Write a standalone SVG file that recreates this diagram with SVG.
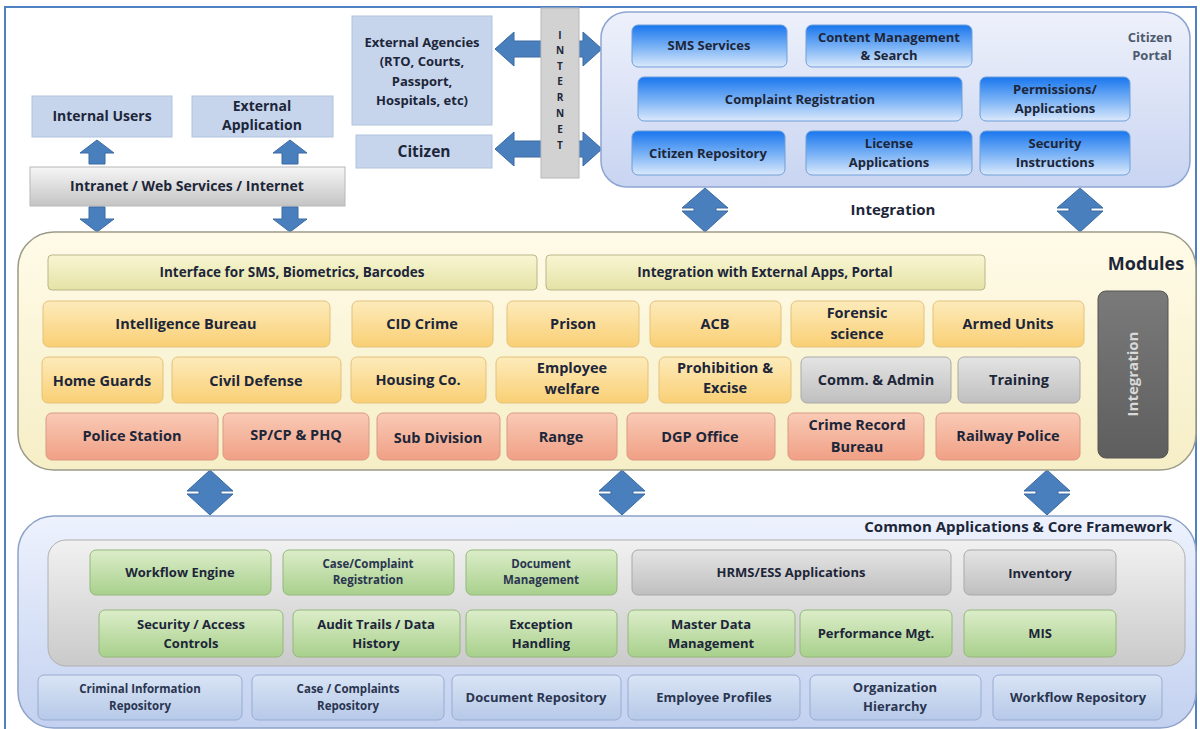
<svg xmlns="http://www.w3.org/2000/svg" width="1200" height="729" viewBox="0 0 1200 729">
<defs>
<linearGradient id="gGray" x1="0" y1="0" x2="0" y2="1"><stop offset="0" stop-color="#f6f6f6"/><stop offset="1" stop-color="#c4c4c4"/></linearGradient>
<linearGradient id="gPortal" x1="0" y1="0" x2="0" y2="1"><stop offset="0" stop-color="#eef1fb"/><stop offset="1" stop-color="#c8d4f1"/></linearGradient>
<linearGradient id="gBlue" x1="0" y1="0" x2="0" y2="1"><stop offset="0" stop-color="#1976ee"/><stop offset="0.55" stop-color="#7fb5f6"/><stop offset="1" stop-color="#dbe9fb"/></linearGradient>
<linearGradient id="gModules" x1="0" y1="0" x2="0" y2="1"><stop offset="0" stop-color="#fffbe8"/><stop offset="1" stop-color="#f6eec6"/></linearGradient>
<linearGradient id="gYG" x1="0" y1="0" x2="0" y2="1"><stop offset="0" stop-color="#f8f6d2"/><stop offset="1" stop-color="#e5e2a6"/></linearGradient>
<linearGradient id="gOrange" x1="0" y1="0" x2="0" y2="1"><stop offset="0" stop-color="#fdebbb"/><stop offset="1" stop-color="#f9cf74"/></linearGradient>
<linearGradient id="gSalmon" x1="0" y1="0" x2="0" y2="1"><stop offset="0" stop-color="#f9cab6"/><stop offset="1" stop-color="#f0a085"/></linearGradient>
<linearGradient id="gGrayBox" x1="0" y1="0" x2="0" y2="1"><stop offset="0" stop-color="#e4e4e4"/><stop offset="1" stop-color="#bfbfbf"/></linearGradient>
<linearGradient id="gDark" x1="0" y1="0" x2="0" y2="1"><stop offset="0" stop-color="#7a7a7a"/><stop offset="1" stop-color="#5e5e5e"/></linearGradient>
<linearGradient id="gCommon" x1="0" y1="0" x2="0" y2="1"><stop offset="0" stop-color="#edf2fd"/><stop offset="1" stop-color="#c3d1f0"/></linearGradient>
<linearGradient id="gPanel" x1="0" y1="0" x2="0" y2="1"><stop offset="0" stop-color="#f1f1f1"/><stop offset="1" stop-color="#cacaca"/></linearGradient>
<linearGradient id="gGreen" x1="0" y1="0" x2="0" y2="1"><stop offset="0" stop-color="#dcedc9"/><stop offset="1" stop-color="#a8d08c"/></linearGradient>
<linearGradient id="gRepo" x1="0" y1="0" x2="0" y2="1"><stop offset="0" stop-color="#d9e4f5"/><stop offset="1" stop-color="#b6c9e8"/></linearGradient>
</defs>
<style>
.t{font-family:"Open Sans",Lato,"Liberation Sans",sans-serif;font-weight:700;fill:#1d2639;text-anchor:middle;font-size:13px}
.l{font-size:14px}
.m{font-size:14.5px}
.xs{font-size:11.5px;fill:#2a3550}
.lb{fill:#c6d5ec;stroke:#b2c3de;stroke-width:1}
.gb{fill:url(#gGray);stroke:#b8b8b8;stroke-width:1}
.bb{fill:url(#gBlue);stroke:#6f9fd8;stroke-width:1}
.yg{fill:url(#gYG);stroke:#b9b68a;stroke-width:1}
.or{fill:url(#gOrange);stroke:#e3c27a;stroke-width:1}
.sa{fill:url(#gSalmon);stroke:#d99a82;stroke-width:1}
.gr{fill:url(#gGrayBox);stroke:#a9a9a9;stroke-width:1}
.gn{fill:url(#gGreen);stroke:#93b87a;stroke-width:1}
.rp{fill:url(#gRepo);stroke:#97acd2;stroke-width:1}
.ar{fill:#4a7fbd;stroke:#3b6aa3;stroke-width:1}
.il{font-size:10px}
</style>
<rect x="0" y="0" width="1200" height="729" fill="#ffffff"/>
<rect x="5" y="7" width="1191" height="740" fill="none" stroke="#4f81c3" stroke-width="2"/>

<g id="internal-users"><rect class="lb" x="32" y="96" width="140" height="41"/><text class="t l" x="102" y="121">Internal Users</text></g>
<g id="external-application"><rect class="lb" x="192" y="96" width="141" height="41"/><text class="t l" x="262" y="111">External</text><text class="t l" x="262" y="130">Application</text></g>
<g id="intranet"><rect class="gb" x="30" y="167" width="315" height="39"/><text class="t l" x="187" y="191">Intranet / Web Services / Internet</text></g>
<g id="external-agencies"><rect class="lb" x="352" y="16" width="140" height="109"/><text class="t" x="422" y="47">External Agencies</text><text class="t" x="422" y="66">(RTO, Courts,</text><text class="t" x="422" y="86">Passport,</text><text class="t" x="422" y="105">Hospitals, etc)</text></g>
<g id="citizen"><rect class="lb" x="356" y="135" width="136" height="33"/><text class="t" x="424" y="157" style="font-size:15.5px">Citizen</text></g>

<g id="connectors">
<polygon class="ar" points="80,153 97,140 114,153 105,153 105,164 89,164 89,153"/>
<polygon class="ar" points="273,153 290,140 307,153 298,153 298,164 282,164 282,153"/>
<polygon class="ar" points="89,207 105,207 105,219 114,219 97,232 80,219 89,219"/>
<polygon class="ar" points="282,207 298,207 298,219 307,219 290,232 273,219 282,219"/>
<polygon class="ar" points="495,49 514,32 514,41 583,41 583,32 602,49 583,66 583,57 514,57 514,66"/>
<polygon class="ar" points="495,149 514,132 514,141 583,141 583,132 602,149 583,166 583,157 514,157 514,166"/>
<polygon class="ar" points="705,188 728,208 716,208 716,211 728,211 705,232 682,211 694,211 694,208 682,208"/>
<polygon class="ar" points="1080,188 1103,208 1091,208 1091,211 1103,211 1080,232 1057,211 1069,211 1069,208 1057,208"/>
<polygon class="ar" points="210,470 233,491 221,491 221,494 233,494 210,515 187,494 199,494 199,491 187,491"/>
<polygon class="ar" points="622,470 645,491 633,491 633,494 645,494 622,515 599,494 611,494 611,491 599,491"/>
<polygon class="ar" points="1047,470 1070,491 1058,491 1058,494 1070,494 1047,515 1024,494 1036,494 1036,491 1024,491"/>
</g>

<g id="internet"><rect class="gb" x="541" y="8" width="38" height="170" style="fill:#d2d2d2"/>
<text class="t il" x="560" y="39">I</text><text class="t il" x="560" y="54">N</text><text class="t il" x="560" y="70">T</text><text class="t il" x="560" y="85">E</text><text class="t il" x="560" y="101">R</text><text class="t il" x="560" y="117">N</text><text class="t il" x="560" y="133">E</text><text class="t il" x="560" y="149">T</text></g>

<g id="citizen-portal"><rect x="601" y="12" width="589" height="175" rx="26" fill="url(#gPortal)" stroke="#8ea5d2" stroke-width="1.5"/>
<text class="t" x="1150" y="42" style="fill:#4e5a6e">Citizen</text><text class="t" x="1152" y="60" style="fill:#4e5a6e">Portal</text></g>
<g id="sms-services"><rect class="bb" x="632" y="25" width="155" height="42" rx="6"/><text class="t" x="709" y="50">SMS Services</text></g>
<g id="content-management"><rect class="bb" x="806" y="25" width="166" height="42" rx="6"/><text class="t" x="889" y="42">Content Management</text><text class="t" x="889" y="60">&amp; Search</text></g>
<g id="complaint-registration"><rect class="bb" x="638" y="77" width="324" height="44" rx="6"/><text class="t" x="800" y="104">Complaint Registration</text></g>
<g id="permissions"><rect class="bb" x="980" y="77" width="150" height="44" rx="6"/><text class="t" x="1055" y="94">Permissions/</text><text class="t" x="1055" y="113">Applications</text></g>
<g id="citizen-repository"><rect class="bb" x="632" y="131" width="153" height="44" rx="6"/><text class="t" x="708" y="158">Citizen Repository</text></g>
<g id="license-applications"><rect class="bb" x="806" y="131" width="166" height="44" rx="6"/><text class="t" x="889" y="148">License</text><text class="t" x="889" y="167">Applications</text></g>
<g id="security-instructions"><rect class="bb" x="980" y="131" width="150" height="44" rx="6"/><text class="t" x="1055" y="148">Security</text><text class="t" x="1055" y="167">Instructions</text></g>
<g id="integration-label"><text class="t" x="893" y="215" style="font-size:15px">Integration</text></g>

<g id="modules"><rect x="18" y="232" width="1178" height="238" rx="36" fill="url(#gModules)" stroke="#9a9a88" stroke-width="1.5"/>
<text class="t" x="1146" y="270" style="font-size:18px">Modules</text></g>
<g id="interface-sms"><rect class="yg" x="48" y="255" width="489" height="35" rx="4"/><text class="t" x="292" y="277" style="font-size:13.5px">Interface for SMS, Biometrics, Barcodes</text></g>
<g id="integration-external"><rect class="yg" x="546" y="255" width="439" height="35" rx="4"/><text class="t" x="765" y="277" style="font-size:13.5px">Integration with External Apps, Portal</text></g>

<g id="intelligence-bureau"><rect class="or" x="43" y="301" width="287" height="46" rx="6"/><text class="t m" x="186" y="329">Intelligence Bureau</text></g>
<g id="cid-crime"><rect class="or" x="352" y="301" width="141" height="46" rx="6"/><text class="t m" x="422" y="329">CID Crime</text></g>
<g id="prison"><rect class="or" x="507" y="301" width="132" height="46" rx="6"/><text class="t m" x="573" y="329">Prison</text></g>
<g id="acb"><rect class="or" x="650" y="301" width="131" height="46" rx="6"/><text class="t m" x="715" y="329">ACB</text></g>
<g id="forensic"><rect class="or" x="791" y="301" width="133" height="46" rx="6"/><text class="t m" x="857" y="318">Forensic</text><text class="t m" x="857" y="339">science</text></g>
<g id="armed-units"><rect class="or" x="933" y="301" width="151" height="46" rx="6"/><text class="t m" x="1008" y="329">Armed Units</text></g>

<g id="home-guards"><rect class="or" x="42" y="357" width="121" height="46" rx="6"/><text class="t m" x="102" y="386">Home Guards</text></g>
<g id="civil-defense"><rect class="or" x="172" y="357" width="169" height="46" rx="6"/><text class="t m" x="256" y="386">Civil Defense</text></g>
<g id="housing"><rect class="or" x="351" y="357" width="135" height="46" rx="6"/><text class="t m" x="418" y="385">Housing Co.</text></g>
<g id="employee-welfare"><rect class="or" x="496" y="357" width="152" height="46" rx="6"/><text class="t m" x="572" y="373">Employee</text><text class="t m" x="572" y="394">welfare</text></g>
<g id="prohibition"><rect class="or" x="659" y="357" width="132" height="46" rx="6"/><text class="t m" x="725" y="373">Prohibition &amp;</text><text class="t m" x="725" y="393">Excise</text></g>
<g id="comm-admin"><rect class="gr" x="801" y="357" width="150" height="46" rx="6"/><text class="t m" x="876" y="385">Comm. &amp; Admin</text></g>
<g id="training"><rect class="gr" x="958" y="357" width="122" height="46" rx="6"/><text class="t m" x="1019" y="385">Training</text></g>

<g id="police-station"><rect class="sa" x="46" y="413" width="172" height="47" rx="6"/><text class="t m" x="132" y="441">Police Station</text></g>
<g id="sp-cp"><rect class="sa" x="223" y="413" width="146" height="47" rx="6"/><text class="t m" x="296" y="440">SP/CP &amp; PHQ</text></g>
<g id="sub-division"><rect class="sa" x="377" y="413" width="123" height="47" rx="6"/><text class="t m" x="438" y="443">Sub Division</text></g>
<g id="range"><rect class="sa" x="507" y="413" width="110" height="47" rx="6"/><text class="t m" x="561" y="442">Range</text></g>
<g id="dgp-office"><rect class="sa" x="627" y="413" width="148" height="47" rx="6"/><text class="t m" x="700" y="442">DGP Office</text></g>
<g id="crime-record"><rect class="sa" x="788" y="413" width="136" height="47" rx="6"/><text class="t m" x="857" y="430">Crime Record</text><text class="t m" x="857" y="452">Bureau</text></g>
<g id="railway-police"><rect class="sa" x="936" y="413" width="144" height="47" rx="6"/><text class="t m" x="1008" y="441">Railway Police</text></g>

<g id="integration-bar"><rect x="1098" y="291" width="70" height="167" rx="8" fill="url(#gDark)" stroke="#555" stroke-width="1"/><text class="t" transform="translate(1138,374) rotate(-90)" style="fill:#d9d9d9;font-size:15px">Integration</text></g>

<g id="common"><rect x="18" y="516" width="1178" height="212" rx="36" fill="url(#gCommon)" stroke="#8da2c8" stroke-width="1.5"/>
<text class="t" x="1172" y="532" style="font-size:15px;text-anchor:end">Common Applications &amp; Core Framework</text>
<rect x="48" y="540" width="1137" height="126" rx="18" fill="url(#gPanel)" stroke="#b0b0b0" stroke-width="1"/></g>

<g id="workflow-engine"><rect class="gn" x="90" y="550" width="181" height="45" rx="6"/><text class="t" x="180" y="577">Workflow Engine</text></g>
<g id="case-complaint"><rect class="gn" x="283" y="550" width="171" height="45" rx="6"/><text class="t xs" x="368" y="568">Case/Complaint</text><text class="t xs" x="368" y="584">Registration</text></g>
<g id="document-management"><rect class="gn" x="466" y="550" width="151" height="45" rx="6"/><text class="t xs" x="541" y="568">Document</text><text class="t xs" x="541" y="584">Management</text></g>
<g id="hrms"><rect class="gr" x="632" y="550" width="319" height="45" rx="6"/><text class="t" x="791" y="577">HRMS/ESS Applications</text></g>
<g id="inventory"><rect class="gr" x="964" y="550" width="152" height="45" rx="6"/><text class="t" x="1040" y="578">Inventory</text></g>

<g id="security-access"><rect class="gn" x="99" y="610" width="184" height="47" rx="6"/><text class="t" x="191" y="629">Security / Access</text><text class="t" x="191" y="648">Controls</text></g>
<g id="audit-trails"><rect class="gn" x="293" y="610" width="167" height="47" rx="6"/><text class="t" x="376" y="629">Audit Trails / Data</text><text class="t" x="376" y="648">History</text></g>
<g id="exception-handling"><rect class="gn" x="466" y="610" width="151" height="47" rx="6"/><text class="t" x="541" y="629">Exception</text><text class="t" x="541" y="648">Handling</text></g>
<g id="master-data"><rect class="gn" x="628" y="610" width="167" height="47" rx="6"/><text class="t" x="711" y="629">Master Data</text><text class="t" x="711" y="648">Management</text></g>
<g id="performance"><rect class="gn" x="800" y="610" width="152" height="47" rx="6"/><text class="t" x="876" y="638">Performance Mgt.</text></g>
<g id="mis"><rect class="gn" x="964" y="610" width="152" height="47" rx="6"/><text class="t" x="1040" y="638">MIS</text></g>

<g id="criminal-info"><rect class="rp" x="38" y="675" width="204" height="45" rx="6"/><text class="t xs" x="140" y="693">Criminal Information</text><text class="t xs" x="140" y="710">Repository</text></g>
<g id="case-repo"><rect class="rp" x="252" y="675" width="192" height="45" rx="6"/><text class="t xs" x="348" y="693">Case / Complaints</text><text class="t xs" x="348" y="710">Repository</text></g>
<g id="document-repo"><rect class="rp" x="452" y="675" width="169" height="45" rx="6"/><text class="t" x="536" y="702" style="fill:#2a3550">Document Repository</text></g>
<g id="employee-profiles"><rect class="rp" x="628" y="675" width="172" height="45" rx="6"/><text class="t" x="714" y="702" style="fill:#2a3550">Employee Profiles</text></g>
<g id="org-hierarchy"><rect class="rp" x="810" y="675" width="171" height="45" rx="6"/><text class="t" x="895" y="692" style="fill:#2a3550">Organization</text><text class="t" x="895" y="711" style="fill:#2a3550">Hierarchy</text></g>
<g id="workflow-repo"><rect class="rp" x="993" y="675" width="169" height="45" rx="6"/><text class="t" x="1078" y="702" style="fill:#2a3550">Workflow Repository</text></g>
</svg>
